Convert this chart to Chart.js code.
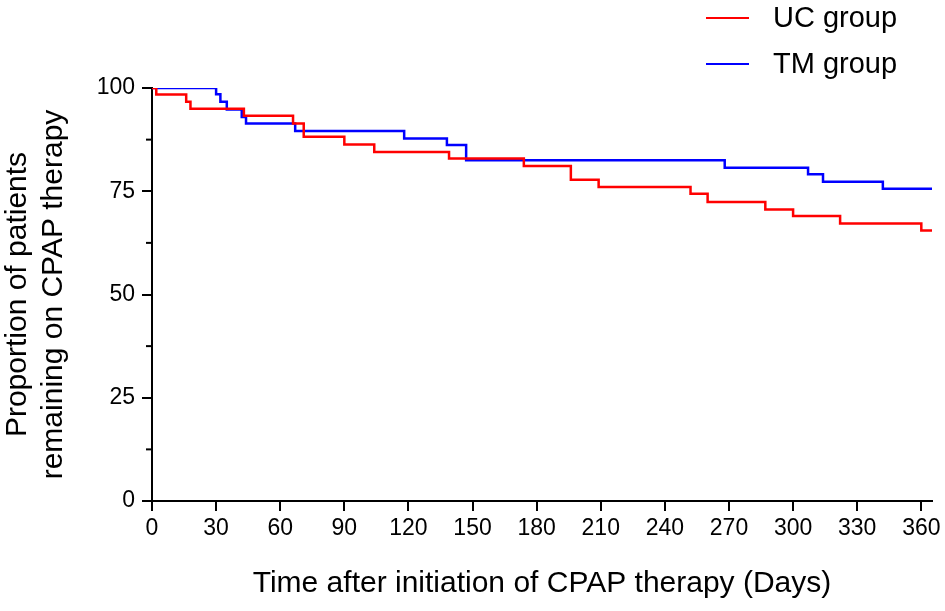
<!DOCTYPE html>
<html lang="en">
<head>
<meta charset="UTF-8">
<title>CPAP adherence</title>
<style>
  html, body { margin:0; padding:0; background:#fff; }
  #wrap { width:945px; height:611px; }
</style>
</head>
<body>
<div id="wrap"><canvas id="km" width="945" height="611"></canvas></div>

<script src="https://cdn.jsdelivr.net/npm/chart.js"></script>
<script>
// Kaplan-Meier steps (day of drop, value after drop)
const ucDays   = [0, 2, 16, 18, 43, 66, 71, 90, 104, 139, 174, 196, 209, 252, 260, 287, 300, 322, 360, 365];
const ucValues = [100, 98.4, 96.7, 95.0, 93.3, 91.4, 88.2, 86.3, 84.5, 82.9, 81.1, 77.8, 76.0, 74.4, 72.4, 70.6, 69.0, 67.2, 65.5, 65.5];

const tmDays   = [0, 30, 32, 35, 42, 44, 67, 118, 138, 147, 268, 307, 314, 342, 365];
const tmValues = [100, 98.5, 96.7, 94.8, 93.0, 91.4, 89.6, 87.8, 86.2, 82.5, 80.7, 79.1, 77.3, 75.6, 75.6];

const seriesNames = ['UC group', 'TM group'];
const seriesColors = ['#ff0000', '#0000ff'];
const yMinorTicks = [12.5, 37.5, 62.5, 87.5];

const FONT = "'Liberation Sans', Arial, sans-serif";

function toPoints(days, vals) {
  return days.map((d, i) => ({ x: d, y: vals[i] }));
}

// small minor ticks on the y axis
const minorTicks = {
  id: 'minorTicks',
  afterDraw(chart) {
    const y = chart.scales.y;
    const ctx = chart.ctx;
    ctx.save();
    ctx.strokeStyle = '#000';
    ctx.lineWidth = 2;
    yMinorTicks.forEach(v => {
      const py = y.getPixelForValue(v);
      ctx.beginPath();
      ctx.moveTo(y.right - 6, py);
      ctx.lineTo(y.right, py);
      ctx.stroke();
    });
    ctx.restore();
  }
};

// stacked legend in the top right corner
const stackLegend = {
  id: 'stackLegend',
  afterDraw(chart) {
    const ctx = chart.ctx;
    const right = chart.chartArea.right;
    ctx.save();
    ctx.font = '29px ' + FONT;
    ctx.textBaseline = 'middle';
    ctx.fillStyle = '#000';
    chart.data.datasets.forEach((ds, i) => {
      const cy = 18 + i * 46;
      ctx.strokeStyle = ds.borderColor;
      ctx.lineWidth = 2;
      ctx.beginPath();
      ctx.moveTo(right - 226, cy);
      ctx.lineTo(right - 183, cy);
      ctx.stroke();
      ctx.fillText(ds.label, right - 159, cy + 1);
    });
    ctx.restore();
  }
};

const ctx = document.getElementById('km').getContext('2d');
new Chart(ctx, {
  type: 'line',
  data: {
    datasets: [
      { label: seriesNames[0], data: toPoints(ucDays, ucValues), borderColor: seriesColors[0],
        borderWidth: 2.5, pointRadius: 0, stepped: true, fill: false },
      { label: seriesNames[1], data: toPoints(tmDays, tmValues), borderColor: seriesColors[1],
        borderWidth: 2.5, pointRadius: 0, stepped: true, fill: false }
    ]
  },
  options: {
    responsive: false,
    animation: false,
    layout: { padding: { top: 88, right: 13, left: 0, bottom: 0 } },
    plugins: { legend: { display: false }, tooltip: { enabled: false } },
    scales: {
      x: {
        type: 'linear',
        min: 0, max: 365,
        ticks: { stepSize: 30, includeBounds: false, color: '#000', padding: 4,
                 font: { family: FONT, size: 23 }, maxRotation: 0 },
        grid: { drawOnChartArea: false, drawTicks: true, tickLength: 10, color: '#000', lineWidth: 2 },
        border: { color: '#000', width: 2 },
        title: { display: true, text: 'Time after initiation of CPAP therapy (Days)', color: '#000',
                 font: { family: FONT, size: 30 }, padding: { top: 0, bottom: 9 } },
        afterFit(s) { s.height = 110; }
      },
      y: {
        min: 0, max: 100,
        ticks: { stepSize: 25, color: '#000', padding: 7, font: { family: FONT, size: 23 } },
        grid: { drawOnChartArea: false, drawTicks: true, tickLength: 10, color: '#000', lineWidth: 2 },
        border: { color: '#000', width: 2 },
        title: { display: true, text: ['Proportion of patients', 'remaining on CPAP therapy'], color: '#000',
                 font: { family: FONT, size: 30, lineHeight: 1.2 }, padding: { top: 0, bottom: 0 } },
        afterFit(s) { s.width = 152; }
      }
    }
  },
  plugins: [minorTicks, stackLegend]
});
</script>
</body>
</html>
